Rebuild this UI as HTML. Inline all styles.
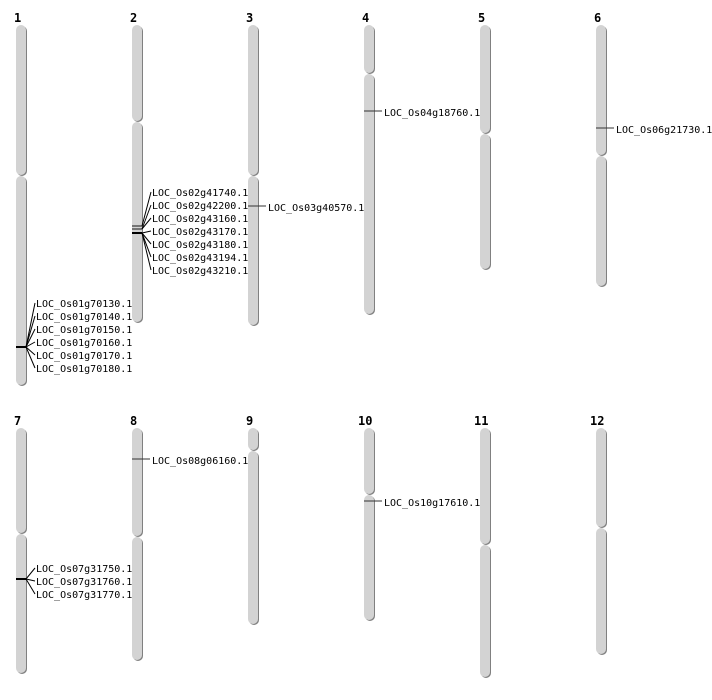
<!DOCTYPE html>
<html><head><meta charset="utf-8"><style>
html,body{margin:0;padding:0;background:#fff;}
svg{display:block;}
text{font-family:"DejaVu Sans Mono","Liberation Mono",monospace;font-size:10px;fill:#000;}
.n{font-family:"DejaVu Sans Mono","Liberation Mono",monospace;font-weight:bold;font-size:12px;}
</style></head><body>
<svg id="s" width="712" height="700" xmlns="http://www.w3.org/2000/svg"></svg>
<script>
var s=document.getElementById('s'),h='';
function chr(x,segs){
  segs.forEach(function(g){
    var y1=g[0],y2=g[1]-1;
    h+='<rect x="'+(x+1)+'" y="'+(y1+1)+'" width="10" height="'+(y2-y1)+'" rx="5" fill="#808080"/>';
    h+='<rect x="'+x+'" y="'+y1+'" width="10" height="'+(y2-y1)+'" rx="5" fill="#d3d3d3"/>';
  });
}
function num(x,y,t){h+='<text class="n" x="'+x+'" y="'+y+'">'+t+'</text>';}
function line(x1,y1,x2,y2,c,w){h+='<line x1="'+x1+'" y1="'+y1+'" x2="'+x2+'" y2="'+y2+'" stroke="'+(c||'#000')+'" stroke-width="'+(w||1)+'"/>';}
function lab(x,y,t){h+='<text x="'+x+'" y="'+(y+4)+'">'+t+'</text>';}
var X=[16,132,248,364,480,596];
var r1=[[[25,176],[176,386]],[[25,122],[122,323]],[[25,176],[176,326]],[[25,74],[74,315]],[[25,134],[134,270]],[[25,156],[156,287]]];
var r2=[[[428,534],[534,674]],[[428,537],[537,661]],[[428,451],[451,625]],[[428,495],[495,621]],[[428,545],[545,678]],[[428,528],[528,655]]];
for(var i=0;i<6;i++){chr(X[i],r1[i]);chr(X[i],r2[i]);num(X[i]-2,22,i+1);num(X[i]-(i+7>=10?6:2),425,i+7);}
line(16,347,26,347,'#000',2);
var l1=['LOC_Os01g70130.1','LOC_Os01g70140.1','LOC_Os01g70150.1','LOC_Os01g70160.1','LOC_Os01g70170.1','LOC_Os01g70180.1'];
l1.forEach(function(t,k){var y=303+13*k;line(26,347,35,y);lab(36,y,t);});
line(132,226,142,226,'#555',1.5);line(132,229,142,229,'#555',1.5);line(132,233,142,233,'#000',2);
var l2=['LOC_Os02g41740.1','LOC_Os02g42200.1','LOC_Os02g43160.1','LOC_Os02g43170.1','LOC_Os02g43180.1','LOC_Os02g43194.1','LOC_Os02g43210.1'];
var src=[226,229,229,233,233,233,233];
l2.forEach(function(t,k){var y=192+13*k;line(142,src[k],151,y);lab(152,y,t);});
line(248,206,266,206,'#333');lab(268,207,'LOC_Os03g40570.1');
line(364,111,382,111,'#333');lab(384,112,'LOC_Os04g18760.1');
line(596,128,614,128,'#333');lab(616,129,'LOC_Os06g21730.1');
line(132,459,150,459,'#333');lab(152,460,'LOC_Os08g06160.1');
line(364,501,382,501,'#333');lab(384,502,'LOC_Os10g17610.1');
line(16,579,26,579,'#000',2);
['LOC_Os07g31750.1','LOC_Os07g31760.1','LOC_Os07g31770.1'].forEach(function(t,k){var y=568+13*k;line(26,579,35,y);lab(36,y,t);});
s.innerHTML=h;
</script>
</body></html>
